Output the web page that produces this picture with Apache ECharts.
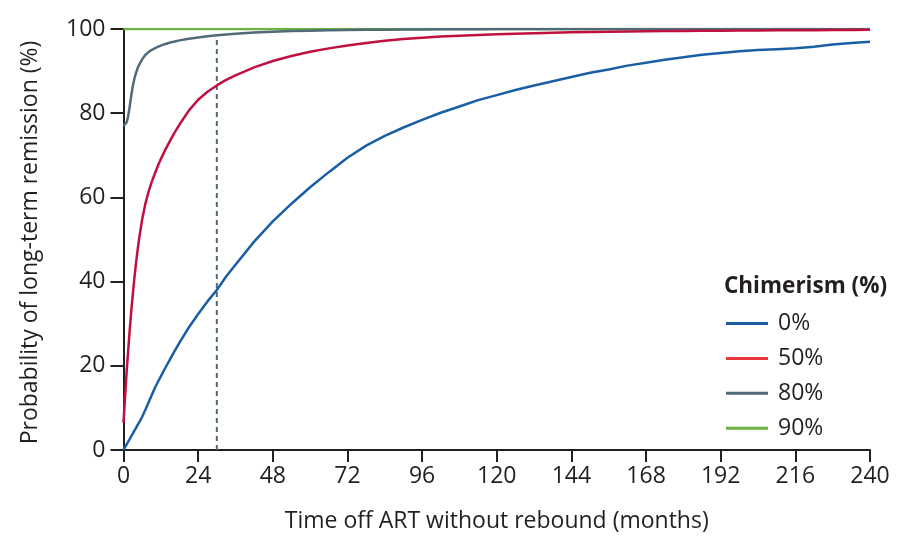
<!DOCTYPE html>
<html>
<head>
<meta charset="utf-8">
<script src="https://cdn.jsdelivr.net/npm/echarts@6/dist/echarts.min.js"></script>
<style>html,body{margin:0;padding:0;background:#fff}#c{width:905px;height:548px}</style>
</head>
<body>
<div id="c"></div>
<script>
var months = [0,0.5,1,1.5,2,2.5,3,3.5,4,4.5,5,6,7,8,9,10,11,12,13.5,15,16.5,18,21,24,27,30,33,36,42,48,54,60,66,72,78,84,90,96,102,108,114,120,126,132,138,144,150,156,162,168,174,180,186,192,198,204,210,216,222,228,234,240];
var chim0  = [0,0.7,1.3,2,2.6,3.3,3.9,4.6,5.2,5.9,6.5,7.9,9.5,11.2,12.9,14.6,16.1,17.5,19.6,21.6,23.6,25.5,29.1,32.3,35.3,38,41.2,44,49.5,54.3,58.5,62.4,66,69.4,72.3,74.6,76.6,78.4,80.1,81.6,83.1,84.3,85.5,86.6,87.6,88.6,89.6,90.4,91.3,92,92.7,93.3,93.9,94.3,94.7,95,95.2,95.4,95.8,96.3,96.7,97];
var chim50 = [6.5,12.5,18.5,23.5,28.5,33,37,40.8,44.2,47.3,50.1,54.8,58.4,61.2,63.5,65.5,67.4,69.1,71.4,73.5,75.5,77.3,80.6,83.2,85.1,86.6,87.9,89,90.9,92.4,93.6,94.6,95.4,96.1,96.7,97.2,97.6,97.9,98.2,98.4,98.6,98.75,98.9,99,99.1,99.2,99.3,99.35,99.4,99.45,99.5,99.55,99.58,99.6,99.63,99.65,99.68,99.7,99.72,99.75,99.78,99.8];
var chim80 = [77,77.1,77.8,79.3,81.6,84.2,86.5,88.2,89.5,90.6,91.5,92.8,93.8,94.5,95,95.4,95.75,96.05,96.45,96.8,97.05,97.3,97.7,98,98.3,98.5,98.7,98.9,99.15,99.35,99.5,99.6,99.7,99.75,99.8,99.85,99.88,99.9,99.93,99.95,99.97,100,100,100,100,100,100,100,100,100,100,100,100,100,100,100,100,100,100,100,100,100];
var chim90 = months.map(function(){return 100;});
var refMonth = 30;
var refTop = 98.5;
var seriesNames = ['0%','50%','80%','90%'];
var seriesColors = ['#1a5ea6','#c0103f','#506a78','#6db33f'];
var legendColors = ['#1a5ea6','#e8383d','#506a78','#6db33f'];
var xTicks = {min:0,max:240,interval:24};
var yTicks = {min:0,max:100,interval:20};

function pairs(vals){return months.map(function(m,i){return [m, vals[i]];});}
var allVals = [chim0, chim50, chim80, chim90];
var FONT = 'Open Sans';
var ink = '#231f20';

var series = seriesNames.map(function(n,i){
  return {name:n,type:'line',data:pairs(allVals[i]),symbol:'none',smooth:false,
    lineStyle:{color:seriesColors[i],width:2.5,join:'round'},itemStyle:{color:seriesColors[i]},z:10-i};
});
series.push({name:'ref',type:'line',data:[[refMonth,0],[refMonth,refTop]],symbol:'none',
  lineStyle:{color:'#506a78',width:2,type:[5,4]},z:1,silent:true});

var chart = echarts.init(document.getElementById('c'));
chart.setOption({
  animation:false,
  backgroundColor:'#fff',
  title:{text:'Chimerism (%)',left:724,top:275,padding:0,textStyle:{fontFamily:FONT,fontSize:22.5,fontWeight:'bold',color:ink}},
  legend:{orient:'vertical',left:726,top:312,padding:0,icon:'rect',itemWidth:42,itemHeight:3,itemGap:11.9,
    data:seriesNames.map(function(n,i){return {name:n,itemStyle:{color:legendColors[i]}};}),
    textStyle:{fontFamily:FONT,fontSize:23,color:ink,lineHeight:22,padding:[0,0,0,5]}},
  grid:{left:123.5,right:35,top:29,bottom:98,containLabel:false},
  xAxis:{type:'value',min:xTicks.min,max:xTicks.max,interval:xTicks.interval,
    name:'Time off ART without rebound (months)',nameLocation:'middle',nameGap:60,
    nameTextStyle:{fontFamily:FONT,fontSize:23,color:ink},
    axisLine:{show:true,lineStyle:{color:ink,width:2}},
    axisTick:{show:true,length:12,lineStyle:{color:ink,width:2}},
    axisLabel:{fontFamily:FONT,fontSize:23,color:ink,margin:15},
    splitLine:{show:false}},
  yAxis:{type:'value',min:yTicks.min,max:yTicks.max,interval:yTicks.interval,
    name:'Probability of long-term remission (%)',nameLocation:'middle',nameGap:82,
    nameTextStyle:{fontFamily:FONT,fontSize:23,color:ink,padding:[0,6,0,0]},
    axisLine:{show:true,lineStyle:{color:ink,width:2}},
    axisTick:{show:true,length:13,lineStyle:{color:ink,width:2}},
    axisLabel:{fontFamily:FONT,fontSize:23,color:ink,margin:18},
    splitLine:{show:false}},
  series:series
});
</script>
</body>
</html>
